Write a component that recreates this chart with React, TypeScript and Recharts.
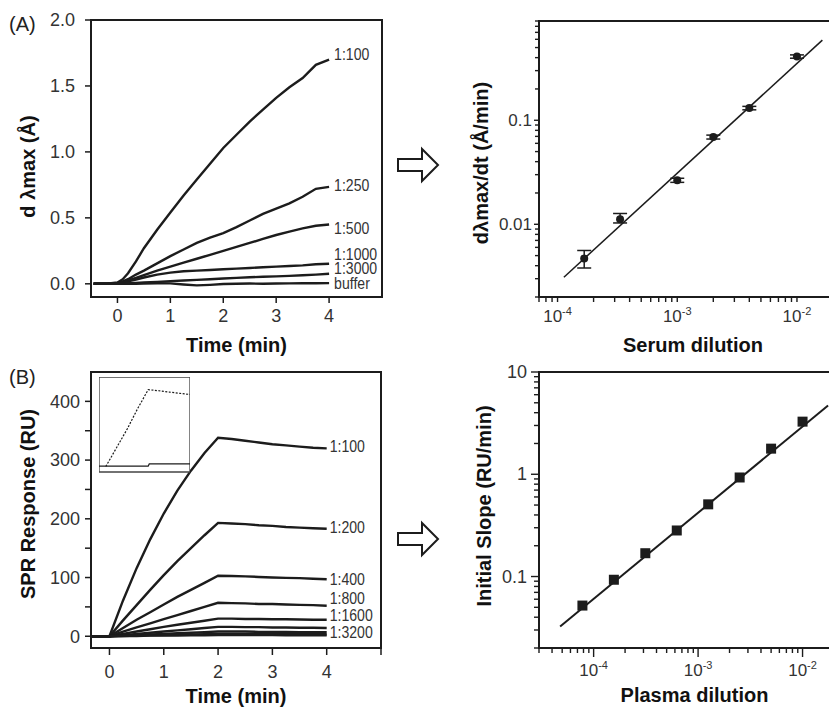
import React from 'react';
import { LineChart, ComposedChart, Line, Scatter, ErrorBar, XAxis, YAxis, ReferenceArea, Label } from 'recharts';

const FONT = "'Liberation Sans', Arial, Helvetica, sans-serif";
const INK = '#1c1c1c';
const TICK_TEXT = '#333333';
const TITLE = '#111111';

// ---------- Panel (A) left: kinetics ----------
const timeA = [-0.45, -0.2, 0, 0.1, 0.2, 0.35, 0.5, 0.75, 1, 1.25, 1.5, 1.75, 2, 2.25, 2.5, 2.75, 3, 3.25, 3.5, 3.75, 4];
const a100 = [0, 0, 0.01, 0.035, 0.08, 0.17, 0.27, 0.41, 0.54, 0.67, 0.79, 0.91, 1.03, 1.13, 1.23, 1.32, 1.41, 1.49, 1.56, 1.66, 1.7];
const a250 = [0, 0, 0.005, 0.018, 0.035, 0.07, 0.1, 0.155, 0.21, 0.26, 0.31, 0.35, 0.385, 0.43, 0.48, 0.53, 0.57, 0.61, 0.66, 0.72, 0.735];
const a500 = [0, 0, 0.005, 0.015, 0.025, 0.045, 0.065, 0.1, 0.13, 0.16, 0.19, 0.22, 0.25, 0.28, 0.31, 0.34, 0.37, 0.395, 0.42, 0.44, 0.45];
const a1000 = [0, 0, 0.005, 0.01, 0.018, 0.032, 0.048, 0.07, 0.085, 0.095, 0.1, 0.105, 0.11, 0.115, 0.12, 0.125, 0.13, 0.135, 0.14, 0.148, 0.152];
const a3000 = [0, 0, 0, 0.002, 0.004, 0.007, 0.01, 0.015, 0.02, 0.025, 0.03, 0.035, 0.04, 0.045, 0.05, 0.053, 0.056, 0.06, 0.065, 0.07, 0.076];
const aBuffer = [0, 0, 0, 0, 0, 0.001, 0.002, 0.004, 0.003, -0.005, -0.012, -0.008, -0.002, 0, 0.002, 0.001, 0.002, 0.003, 0.004, 0.004, 0.005];
const namesA = ['1:100', '1:250', '1:500', '1:1000', '1:3000', 'buffer'];
const valuesA = [a100, a250, a500, a1000, a3000, aBuffer];
const timeTicksA = [0, 1, 2, 3, 4];
const yTicksA = [0, 0.5, 1, 1.5, 2];
const labelDyA = [-5, -2, 4, -10, -6, 0];

// ---------- Panel (A) right: serum dilution ----------
const serumDil = [1.67e-4, 3.33e-4, 1.0e-3, 2.0e-3, 4.0e-3, 1.0e-2];
const serumRate = [0.0047, 0.0112, 0.0265, 0.069, 0.131, 0.41];
const serumErrLow = [0.0009, 0.0009, 0.0012, 0.003, 0.005, 0.015];
const serumErrHigh = [0.0009, 0.0015, 0.0012, 0.003, 0.005, 0.015];
const serumFitX = [1.13e-4, 1.63e-2];
const serumFitY = [0.0031, 0.59];
const serumXTicks = [7e-5, 8e-5, 9e-5, 1e-4, 2e-4, 3e-4, 4e-4, 5e-4, 6e-4, 7e-4, 8e-4, 9e-4, 1e-3, 2e-3, 3e-3, 4e-3, 5e-3, 6e-3, 7e-3, 8e-3, 9e-3, 1e-2, 2e-2];
const serumXLabels = [1e-4, 1e-3, 1e-2];
const serumYTicks = [0.002, 0.003, 0.004, 0.005, 0.006, 0.007, 0.008, 0.009, 0.01, 0.02, 0.03, 0.04, 0.05, 0.06, 0.07, 0.08, 0.09, 0.1, 0.2, 0.3, 0.4, 0.5, 0.6, 0.7, 0.8, 0.9];
const serumYLabels = [0.01, 0.1];

// ---------- Panel (B) left: SPR sensorgrams ----------
const timeB = [-0.34, 0, 0.25, 0.5, 0.75, 1, 1.25, 1.5, 1.75, 2, 2.25, 2.5, 2.75, 3, 3.25, 3.5, 3.75, 4];
const b100 = [0, 0, 61, 116, 165, 209, 248, 282, 312, 338, 336, 333, 330, 327, 325, 323, 321, 320];
const b200 = [0, 0, 27, 53, 79, 104, 128, 150, 172, 193, 192, 191, 189, 188, 186, 185, 184, 183];
const b400 = [0, 0, 14, 28, 41, 54, 67, 79, 91, 103, 102.5, 102, 101, 100, 99.5, 99, 98, 97];
const b800 = [0, 0, 8, 15, 22, 29, 36, 43, 50, 57, 56.5, 56, 55, 55, 54, 53.5, 53, 52];
const b1600 = [0, 0, 4, 8, 12, 16, 19.5, 23, 26.5, 30, 30, 29.5, 29.5, 29, 29, 28.5, 28, 28];
const b3200 = [0, 0, 2, 4, 6, 8, 10, 12, 14, 16, 16, 15.5, 15.5, 15, 15, 14.5, 14.5, 14];
const b6400 = [0, 0, 1, 2, 3, 4, 5, 6, 7, 8, 8, 8, 7.5, 7.5, 7.5, 7, 7, 7];
const b12800 = [0, 0, 0.5, 1, 1.5, 2, 2.5, 3, 3.5, 4, 4, 4, 4, 3.5, 3.5, 3.5, 3.5, 3.5];
const bBuffer = [0, 0, 0.5, 0.5, 1, 1, 1, 1.5, 1.5, 2, 2, 2, 2, 2, 1.5, 1.5, 1.5, 1.5];
const namesB = ['1:100', '1:200', '1:400', '1:800', '1:1600', '1:3200', '', '', ''];
const valuesB = [b100, b200, b400, b800, b1600, b3200, b6400, b12800, bBuffer];
const timeTicksB = [0, 1, 2, 3, 4, 5];
const yTicksB = [0, 50, 100, 150, 200, 250, 300, 350, 400];
const labelDyB = [-2, -2, 0, -8, -5, 4, 0, 0, 0];

// inset
const insetDashT = [0, 0.5, 1, 1.5, 2, 2.5, 3, 3.5, 3.97];
const insetDashV = [-0.1, 0.75, 1.6, 2.55, 3.42, 3.37, 3.31, 3.25, 3.2];
const insetSolidT = [-0.32, 1, 2, 2.05, 3, 3.97];
const insetSolidV = [-0.08, -0.08, -0.08, 0.02, 0.02, 0.02];
const insetTicks = [0, 1, 2, 3];

// ---------- Panel (B) right: plasma dilution ----------
const plasmaDil = [7.8125e-5, 1.5625e-4, 3.125e-4, 6.25e-4, 1.25e-3, 2.5e-3, 5e-3, 1e-2];
const plasmaSlope = [0.052, 0.093, 0.169, 0.282, 0.508, 0.93, 1.78, 3.27];
const plasmaFitX = [4.78e-5, 1.755e-2];
const plasmaFitY = [0.0324, 4.7];
const plasmaXTicks = [3e-5, 4e-5, 5e-5, 6e-5, 7e-5, 8e-5, 9e-5, 1e-4, 2e-4, 3e-4, 4e-4, 5e-4, 6e-4, 7e-4, 8e-4, 9e-4, 1e-3, 2e-3, 3e-3, 4e-3, 5e-3, 6e-3, 7e-3, 8e-3, 9e-3, 1e-2, 2e-2];
const plasmaXLabels = [1e-4, 1e-3, 1e-2];
const plasmaYTicks = [0.02, 0.03, 0.04, 0.05, 0.06, 0.07, 0.08, 0.09, 0.1, 0.2, 0.3, 0.4, 0.5, 0.6, 0.7, 0.8, 0.9, 1, 2, 3, 4, 5, 6, 7, 8, 9, 10];
const plasmaYLabels = [0.1, 1, 10];

// ---------- helpers ----------
const nearly = (a: number, b: number) => Math.abs(a - b) <= Math.abs(b) * 1e-6;

function logXTick(labels: number[], minorLen: number, majorLen: number, labelDy: number) {
  return (props: any) => {
    const { x, y, payload, index } = props;
    const v = payload.value as number;
    const lab = labels.find((l) => nearly(v, l));
    const isMajor = lab !== undefined;
    return (
      <g key={`xt-${index}`}>
        <line x1={x} x2={x} y1={y} y2={y + (isMajor ? majorLen : minorLen)} stroke={INK} strokeWidth={1.4} />
        {isMajor && (
          <text x={x} y={y + labelDy} textAnchor="middle" fontFamily={FONT} fontSize={17} fill={TICK_TEXT}>
            10<tspan dy={-7} fontSize={11}>{String(Math.round(Math.log10(lab as number)))}</tspan>
          </text>
        )}
      </g>
    );
  };
}

function logYTick(labels: number[], minorLen: number, majorLen: number, gap: number, fontSize: number) {
  return (props: any) => {
    const { x, y, payload, index } = props;
    const v = payload.value as number;
    const lab = labels.find((l) => nearly(v, l));
    const isMajor = lab !== undefined;
    return (
      <g key={`yt-${index}`}>
        <line x1={x} x2={x - (isMajor ? majorLen : minorLen)} y1={y} y2={y} stroke={INK} strokeWidth={1.4} />
        {isMajor && (
          <text x={x - gap} y={y} textAnchor="end" dominantBaseline="central" fontFamily={FONT} fontSize={fontSize} fill={TICK_TEXT}>
            {String(lab)}
          </text>
        )}
      </g>
    );
  };
}

function endLabel(text: string, lastIndex: number, dx: number, dy: number) {
  return (props: any) => {
    const { cx, cy, index } = props;
    if (index !== lastIndex || !text) return <g key={`d-${index}`} />;
    return (
      <text key={`d-${index}`} transform={`translate(${cx + dx},${cy + dy}) scale(0.88,1)`} x={0} y={0}
        dominantBaseline="central" fontFamily={FONT} fontSize={16} fill={TICK_TEXT}>
        {text}
      </text>
    );
  };
}

const titleProps = { fontSize: 20, fontWeight: 'bold', fill: TITLE, fontFamily: FONT } as const;
const tickText = { fill: TICK_TEXT, fontSize: 18, fontFamily: FONT };

const rowsA = timeA.map((t, i) => {
  const r: Record<string, number> = { t };
  valuesA.forEach((arr, j) => (r[`k${j}`] = arr[i]));
  return r;
});
const rowsB = timeB.map((t, i) => {
  const r: Record<string, number> = { t };
  valuesB.forEach((arr, j) => (r[`k${j}`] = arr[i]));
  return r;
});
const serumPts = serumDil.map((x, i) => ({ x, y: serumRate[i], err: [serumErrLow[i], serumErrHigh[i]] }));
const serumFit = serumFitX.map((x, i) => ({ x, y: serumFitY[i] }));
const plasmaPts = plasmaDil.map((x, i) => ({ x, y: plasmaSlope[i] }));
const plasmaFit = plasmaFitX.map((x, i) => ({ x, y: plasmaFitY[i] }));
const insetDash = insetDashT.map((t, i) => ({ t, v: insetDashV[i] }));
const insetSolid = insetSolidT.map((t, i) => ({ t, v: insetSolidV[i] }));

function PanelATime() {
  return (
    <LineChart width={400} height={370} data={rowsA} margin={{ top: 20, right: 18, bottom: 0, left: 0 }}>
      <XAxis dataKey="t" type="number" domain={[-0.5, 5]} ticks={timeTicksA} allowDataOverflow interval={0}
        axisLine={false} tickSize={6} tickMargin={6} tickLine={{ stroke: INK, strokeWidth: 1.5 }} tick={tickText} height={73}>
        <Label value="Time (min)" position="center" dy={11} {...titleProps} />
      </XAxis>
      <YAxis type="number" domain={[-0.1, 2]} ticks={yTicksA} allowDataOverflow interval={0} width={91}
        axisLine={false} tickSize={6} tickMargin={10} tickLine={{ stroke: INK, strokeWidth: 1.5 }} tick={tickText}
        tickFormatter={(v: number) => v.toFixed(1)}>
        <Label value="d λmax (Å)" position="center" angle={-90} dx={-18} dy={8} {...titleProps} />
      </YAxis>
      <ReferenceArea x1={-0.5} x2={5} y1={-0.1} y2={2} fill="none" stroke={INK} strokeWidth={2} />
      {namesA.map((n, j) => (
        <Line key={n} dataKey={`k${j}`} type="linear" stroke={INK} strokeWidth={2.4} isAnimationActive={false}
          activeDot={false} dot={endLabel(n, timeA.length - 1, 5, labelDyA[j])} />
      ))}
    </LineChart>
  );
}

function PanelASerum() {
  return (
    <ComposedChart width={400} height={370} margin={{ top: 21, right: 7, bottom: 0, left: 0 }}>
      <XAxis dataKey="x" type="number" scale="log" domain={[7e-5, 2e-2]} ticks={serumXTicks} allowDataOverflow interval={0}
        axisLine={false} tickLine={false} tickSize={0} tickMargin={0} tick={logXTick(serumXLabels, 5, 5, 25)} height={73}>
        <Label value="Serum dilution" position="center" dx={7} dy={11} {...titleProps} />
      </XAxis>
      <YAxis dataKey="y" type="number" scale="log" domain={[0.002, 0.9]} ticks={serumYTicks} allowDataOverflow interval={0} width={99}
        axisLine={false} tickLine={false} tickSize={0} tickMargin={0} tick={logYTick(serumYLabels, 4, 5, 7, 17)}>
        <Label value="dλmax/dt (Å/min)" position="center" angle={-90} dx={-9} dy={4} {...titleProps} />
      </YAxis>
      <ReferenceArea x1={7e-5} x2={2e-2} y1={0.002} y2={0.9} fill="none" stroke={INK} strokeWidth={2} />
      <Line data={serumFit} dataKey="y" type="linear" stroke={INK} strokeWidth={1.5} dot={false} activeDot={false} isAnimationActive={false} />
      <Scatter data={serumPts} dataKey="y" isAnimationActive={false}
        shape={(p: any) => <circle cx={p.cx} cy={p.cy} r={4} fill={INK} />}>
        <ErrorBar dataKey="err" direction="y" width={7} stroke={INK} strokeWidth={1.5} />
      </Scatter>
    </ComposedChart>
  );
}

function PanelBTime() {
  return (
    <LineChart width={400} height={370} data={rowsB} margin={{ top: 32, right: 19, bottom: 0, left: 0 }}>
      <XAxis dataKey="t" type="number" domain={[-0.34, 5]} ticks={timeTicksB} allowDataOverflow interval={0}
        axisLine={false} tickSize={7} tickMargin={10} tickLine={{ stroke: INK, strokeWidth: 1.5 }} tick={tickText} height={62}
        tickFormatter={(v: number) => (v === 5 ? '' : String(v))}>
        <Label value="Time (min)" position="center" dy={17} {...titleProps} />
      </XAxis>
      <YAxis type="number" domain={[-20, 450]} ticks={yTicksB} allowDataOverflow interval={0} width={91}
        axisLine={false} tickSize={6} tickMargin={5} tickLine={{ stroke: INK, strokeWidth: 1.5 }} tick={tickText}
        tickFormatter={(v: number) => (v % 100 === 0 ? String(v) : '')}>
        <Label value="SPR Response (RU)" position="center" angle={-90} dx={-18} dy={-6} {...titleProps} />
      </YAxis>
      <ReferenceArea x1={-0.34} x2={5} y1={-20} y2={450} fill="none" stroke={INK} strokeWidth={2} />
      {valuesB.map((_, j) => (
        <Line key={`b${j}`} dataKey={`k${j}`} type="linear" stroke={INK} strokeWidth={2.4} isAnimationActive={false}
          activeDot={false} dot={endLabel(namesB[j], timeB.length - 1, 3, labelDyB[j])} />
      ))}
    </LineChart>
  );
}

function Inset() {
  return (
    <LineChart width={91} height={99} margin={{ top: 0, right: 0, bottom: 0, left: 0 }}>
      <XAxis dataKey="t" type="number" domain={[-0.32, 3.97]} ticks={insetTicks} allowDataOverflow interval={0}
        axisLine={false} tick={false} tickSize={3} tickLine={{ stroke: '#444', strokeWidth: 1 }} height={4} />
      <YAxis type="number" domain={[-0.35, 4]} ticks={insetTicks} allowDataOverflow interval={0} width={0} mirror
        axisLine={false} tick={false} tickSize={3} tickLine={{ stroke: '#444', strokeWidth: 1 }} />
      <ReferenceArea x1={-0.32} x2={3.97} y1={-0.35} y2={4} fill="#fff" fillOpacity={1} stroke="#444" strokeWidth={1.3} />
      <Line data={insetDash} dataKey="v" type="linear" stroke={INK} strokeWidth={1.2} strokeDasharray="2 1.5" dot={false} activeDot={false} isAnimationActive={false} />
      <Line data={insetSolid} dataKey="v" type="linear" stroke={INK} strokeWidth={1.2} dot={false} activeDot={false} isAnimationActive={false} />
    </LineChart>
  );
}

function PanelBPlasma() {
  return (
    <ComposedChart width={400} height={370} margin={{ top: 32, right: 6, bottom: 0, left: 0 }}>
      <XAxis dataKey="x" type="number" scale="log" domain={[3e-5, 2e-2]} ticks={plasmaXTicks} allowDataOverflow interval={0}
        axisLine={false} tickLine={false} tickSize={0} tickMargin={0} tick={logXTick(plasmaXLabels, 5, 9, 28)} height={62}>
        <Label value="Plasma dilution" position="center" dx={8} dy={16} {...titleProps} />
      </XAxis>
      <YAxis dataKey="y" type="number" scale="log" domain={[0.02, 10]} ticks={plasmaYTicks} allowDataOverflow interval={0} width={99}
        axisLine={false} tickLine={false} tickSize={0} tickMargin={0} tick={logYTick(plasmaYLabels, 5, 8, 12, 18)}>
        <Label value="Initial Slope (RU/min)" position="center" angle={-90} dx={-6} dy={-4} {...titleProps} />
      </YAxis>
      <ReferenceArea x1={3e-5} x2={2e-2} y1={0.02} y2={10} fill="none" stroke={INK} strokeWidth={2} />
      <Line data={plasmaFit} dataKey="y" type="linear" stroke={INK} strokeWidth={2} dot={false} activeDot={false} isAnimationActive={false} />
      <Scatter data={plasmaPts} dataKey="y" isAnimationActive={false}
        shape={(p: any) => <rect x={p.cx - 5} y={p.cy - 5} width={10} height={10} fill={INK} />} />
    </ComposedChart>
  );
}

function Arrow({ cy }: { cy: number }) {
  const pts = [
    [398, cy - 6], [422, cy - 6], [422, cy - 16], [438, cy], [422, cy + 16], [422, cy + 6], [398, cy + 6],
  ].map((p) => p.join(',')).join(' ');
  return <polygon points={pts} fill="#fff" stroke={INK} strokeWidth={2} strokeLinejoin="miter" />;
}

export default function App() {
  return (
    <div style={{ position: 'absolute', left: 0, top: 0, width: 829, height: 710, overflow: 'hidden', background: '#fff' }}>
      <div style={{ position: 'absolute', left: 0, top: 340 }}><PanelBTime /></div>
      <div style={{ position: 'absolute', left: 440, top: 340 }}><PanelBPlasma /></div>
      <div style={{ position: 'absolute', left: 0, top: 0 }}><PanelATime /></div>
      <div style={{ position: 'absolute', left: 440, top: 0 }}><PanelASerum /></div>
      <div style={{ position: 'absolute', left: 99, top: 377 }}><Inset /></div>
      <svg width={829} height={710} style={{ position: 'absolute', left: 0, top: 0, pointerEvents: 'none' }}>
        <text x={9} y={31} fontFamily={FONT} fontSize={20} fill="#222">(A)</text>
        <text x={9} y={384} fontFamily={FONT} fontSize={20} fill="#222">(B)</text>
        <Arrow cy={165} />
        <Arrow cy={539} />
      </svg>
    </div>
  );
}
